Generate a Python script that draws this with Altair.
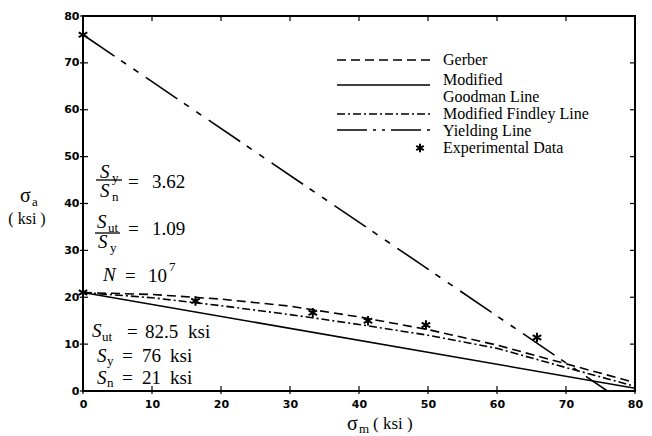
import altair as alt
import pandas as pd

# ---------------- data ----------------
sm_grid = [0, 10, 20, 30, 40, 50, 60, 70, 80]
gerber_sa = [21, 20.6, 19.6, 18.1, 15.8, 13.1, 9.8, 5.8, 1.8]
findley_sa = [21, 19.9, 18.2, 16.3, 14.2, 11.9, 9.1, 5.0, 1.0]
goodman_sm = [0, 80]
goodman_sa = [21, 0.6]
yield_sm = [0, 76]
yield_sa = [76, 0]
exp_sm = [0, 0, 16.3, 33.3, 41.3, 49.7, 65.8]
exp_sa = [76, 21, 19.2, 16.7, 15.0, 14.1, 11.4]
tick_values = [0, 10, 20, 30, 40, 50, 60, 70, 80]
legend_labels = ["Gerber", "Modified", "Goodman Line", "Modified Findley Line",
                 "Yielding Line", "Experimental Data"]

# ---------------- layout ----------------
W, H = 552, 375
OX, OY = 83, 16          # page position of plot origin
SERIF = "Liberation Serif"
SANS = "DejaVu Sans"
ASTER = "M0,-1L0,1M-0.9,-0.5L0.9,0.5M-0.9,0.5L0.9,-0.5"

xs = alt.Scale(domain=[0, 80], nice=False, zero=False)
ys = alt.Scale(domain=[0, 80], nice=False, zero=False)
X_AX = alt.Axis(values=tick_values, title=None, labelPadding=7, ticks=False,
                domain=False, grid=False, labelFlush=False)
Y_AX = alt.Axis(values=tick_values, title=None, labelPadding=4, ticks=False,
                domain=False, grid=False, labelFlush=False)
one = pd.DataFrame({"a": [0]})


def X(field):
    return alt.X(field, scale=xs, axis=X_AX)


def Y(field):
    return alt.Y(field, scale=ys, axis=Y_AX)


def curve(sm, sa, dash=None):
    df = pd.DataFrame({"sm": sm, "sa": sa})
    kw = {"strokeDash": dash} if dash else {}
    return alt.Chart(df).mark_line(color="black", strokeWidth=1.6, **kw).encode(
        x=X("sm:Q"), y=Y("sa:Q"))


def txt(s, px, py, size, italic=False, align="left", font=SERIF):
    return alt.Chart(one).mark_text(
        text=s, align=align, baseline="middle", fontSize=size, font=font,
        fontStyle="italic" if italic else "normal", color="black",
    ).encode(x=alt.value(px - OX), y=alt.value(py - OY))


def hrule(x1, x2, y, dash=None, width=1.6):
    kw = {"strokeDash": dash} if dash else {}
    return alt.Chart(one).mark_rule(color="black", strokeWidth=width, **kw).encode(
        x=alt.value(x1 - OX), x2=alt.value(x2 - OX), y=alt.value(y - OY))


tick_df = pd.DataFrame({"v": tick_values})

# ticks on all four sides
tk_left = alt.Chart(tick_df).mark_rule(color="black", strokeWidth=1.2).encode(
    y=Y("v:Q"), x=alt.value(-3), x2=alt.value(5))
tk_right = alt.Chart(tick_df).mark_rule(color="black", strokeWidth=1.2).encode(
    y=Y("v:Q"), x=alt.value(W - 5), x2=alt.value(W))
tk_bottom = alt.Chart(tick_df).mark_rule(color="black", strokeWidth=1.2).encode(
    x=X("v:Q"), y=alt.value(H - 5), y2=alt.value(H + 3))
tk_top = alt.Chart(tick_df).mark_rule(color="black", strokeWidth=1.2).encode(
    x=X("v:Q"), y=alt.value(0), y2=alt.value(5))

D_GERBER = [9, 5]
D_FINDLEY = [8, 3, 2, 3]
D_YIELD = [38, 8, 6, 9, 6, 9]

gerber = curve(sm_grid, gerber_sa, D_GERBER)
findley = curve(sm_grid, findley_sa, D_FINDLEY)
goodman = curve(goodman_sm, goodman_sa)
yielding = curve(yield_sm, yield_sa, D_YIELD)

exp_df = pd.DataFrame({"sm": exp_sm, "sa": exp_sa})
points = alt.Chart(exp_df).mark_point(
    shape=ASTER, filled=False, color="black", strokeWidth=2, size=90, opacity=1
).encode(x=X("sm:Q"), y=Y("sa:Q"))

# legend
LX = 443
LS = 16
legend = [
    hrule(337, 430, 60, D_GERBER),
    hrule(337, 430, 85),
    hrule(337, 430, 114, D_FINDLEY),
    hrule(337, 430, 130, [30, 6, 3, 6, 3, 6]),
    alt.Chart(one).mark_point(shape=ASTER, filled=False, color="black", strokeWidth=2,
                              size=70, opacity=1).encode(
        x=alt.value(420 - OX), y=alt.value(148 - OY)),
    txt(legend_labels[0], LX, 60, LS),
    txt(legend_labels[1], LX, 80, LS),
    txt(legend_labels[2], LX, 97, LS),
    txt(legend_labels[3], LX, 114, LS),
    txt(legend_labels[4], LX, 131, LS),
    txt(legend_labels[5], LX, 148, LS),
]

# annotations
ann = [
    # Sy / Sn = 3.62
    txt("S", 100, 172, 19, italic=True), txt("y", 112, 178, 13),
    hrule(96, 122, 180, width=1.3),
    txt("S", 100, 191, 19, italic=True), txt("n", 112, 197, 13),
    txt("=", 128, 182, 19), txt("3.62", 152, 182, 19),
    # Sut / Sy = 1.09
    txt("S", 97, 222, 19, italic=True), txt("ut", 108, 228, 13),
    hrule(95, 120, 233, width=1.3),
    txt("S", 98, 242, 19, italic=True), txt("y", 110, 248, 13),
    txt("=", 128, 229, 19), txt("1.09", 152, 229, 19),
    # N = 10^7
    txt("N", 103, 275, 19, italic=True), txt("=", 125, 276, 19),
    txt("10", 148, 276, 19), txt("7", 169, 267, 13),
    # material properties
    txt("S", 92, 331, 19, italic=True), txt("ut", 102, 337, 13),
    txt("=", 127, 332, 19), txt("82.5", 145, 332, 19), txt("ksi", 188, 332, 19),
    txt("S", 97, 356, 19, italic=True), txt("y", 107, 361, 13),
    txt("=", 122, 356, 19), txt("76", 142, 356, 19), txt("ksi", 170, 356, 19),
    txt("S", 97, 378, 19, italic=True), txt("n", 107, 383, 13),
    txt("=", 122, 378, 19), txt("21", 142, 378, 19), txt("ksi", 170, 378, 19),
    # axis titles
    txt("σ", 20, 196, 20), txt("a", 32, 202, 13),
    txt("( ksi )", 27, 219, 16, align="center"),
    txt("σ", 347, 424, 20), txt("m", 359, 429, 13),
    txt("(  ksi  )", 373, 424, 17),
]

chart = alt.layer(
    tk_left, tk_right, tk_bottom, tk_top,
    goodman, gerber, findley, yielding, points,
    *legend, *ann,
).properties(
    width=W, height=H,
    padding={"left": 75, "top": 8, "right": 9, "bottom": 45},
    autosize=alt.AutoSizeParams(type="none"),
).configure_view(
    stroke="black", strokeWidth=2
).configure_axis(
    grid=False, domain=False, ticks=False, tickSize=0, labelFlush=False,
    labelFont=SANS, labelFontSize=11, labelFontWeight="bold", labelColor="black",
)

chart.save("out.html", embed_options={"renderer": "svg", "actions": False})
